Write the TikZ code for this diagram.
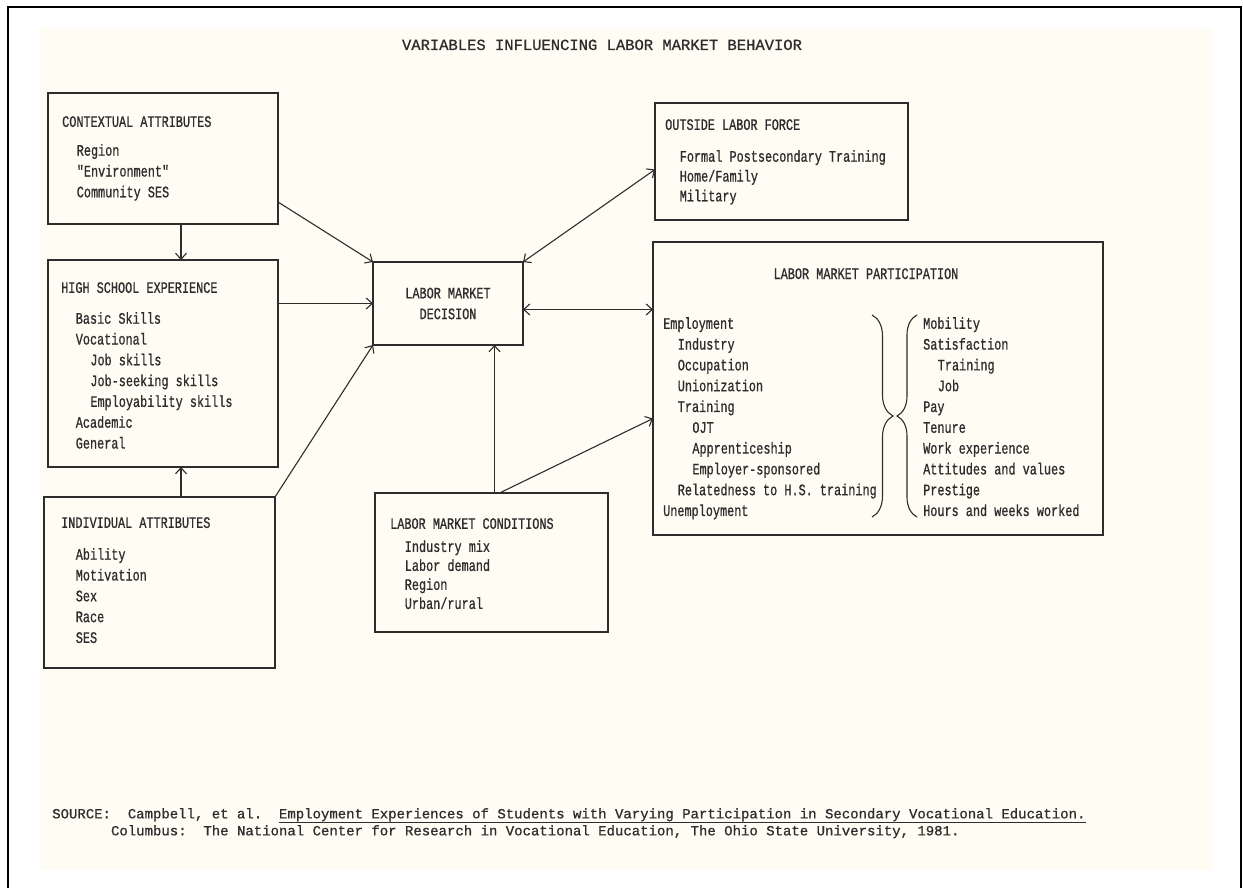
\documentclass[tikz,border=0pt]{standalone}
\usepackage{fontspec}
\usetikzlibrary{arrows.meta, decorations.pathreplacing}

\newfontfamily\boxfont[FakeStretch=0.74, FakeBold=0.8]{Liberation Mono}
\newfontfamily\headfont[FakeBold=0.8]{Liberation Mono}
\definecolor{paper}{RGB}{255,252,243}
\definecolor{ink}{RGB}{45,45,45}
\newcommand{\ind}{\hspace*{14.6pt}}

\begin{document}
\begin{tikzpicture}[x=1pt, y=-1pt, >={Straight Barb[length=6pt,width=11pt]},
  box/.style={draw=ink, line width=1.2pt, anchor=north west, inner sep=0pt, outer sep=0pt},
  txt/.style={anchor=north west, align=left, inner sep=0pt, text=ink,
    font=\boxfont\fontsize{16}{20.8}\selectfont},
  link/.style={draw=ink, line width=1.1pt}]
\useasboundingbox (0,0) rectangle (1243,888);
\fill[paper] (40,28) rectangle (1212,870);
\draw[line width=1.5pt] (8,888) -- (8,7) -- (1241,7) -- (1241,888);

\node[anchor=base, text=ink, font=\headfont\fontsize{15.5}{18}\selectfont] (head) at (602,50)
  {VARIABLES INFLUENCING LABOR MARKET BEHAVIOR};

% boxes
\node[box, minimum width=230pt, minimum height=131pt] (ctx) at (48,93) {};
\node[box, minimum width=230pt, minimum height=207pt] (hs) at (48,260) {};
\node[box, minimum width=231pt, minimum height=171pt] (ind) at (44,497) {};
\node[box, minimum width=150pt, minimum height=83pt, align=center, text=ink,
  font=\boxfont\fontsize{16}{20.8}\selectfont] (dec) at (373,262) {LABOR MARKET\\DECISION};
\node[box, minimum width=233pt, minimum height=139pt] (cond) at (375,493) {};
\node[box, minimum width=253pt, minimum height=117pt] (out) at (655,103) {};
\node[box, minimum width=450pt, minimum height=293pt] (part) at (653,242) {};

% box texts
\node[txt] (ctxtxt) at (62,116) {CONTEXTUAL ATTRIBUTES\\[8pt]
  \ind Region\\\ind "Environment"\\\ind Community SES};
\node[txt] (hstxt) at (61,282) {HIGH SCHOOL EXPERIENCE\\[10pt]
  \ind Basic Skills\\\ind Vocational\\\ind\ind Job skills\\\ind\ind Job-seeking skills\\
  \ind\ind Employability skills\\\ind Academic\\\ind General};
\node[txt] (indtxt) at (61,517) {INDIVIDUAL ATTRIBUTES\\[11pt]
  \ind Ability\\\ind Motivation\\\ind Sex\\\ind Race\\\ind SES};
\node[txt, font=\boxfont\fontsize{16}{19}\selectfont] (condtxt) at (390,518)
  {LABOR MARKET CONDITIONS\\[4pt]
  \ind Industry mix\\\ind Labor demand\\\ind Region\\\ind Urban/rural};
\node[txt, font=\boxfont\fontsize{16}{19.8}\selectfont] (outtxt) at (665,119)
  {OUTSIDE LABOR FORCE\\[12pt]
  \ind Formal Postsecondary Training\\\ind Home/Family\\\ind Military};
\node[txt, anchor=base] (parttitle) at (866,279) {LABOR MARKET PARTICIPATION};
\node[txt] (partleft) at (663,317) {Employment\\\ind Industry\\\ind Occupation\\
  \ind Unionization\\\ind Training\\\ind\ind OJT\\\ind\ind Apprenticeship\\
  \ind\ind Employer-sponsored\\\ind Relatedness to H.S. training\\Unemployment};
\node[txt] (partright) at (923,317) {Mobility\\Satisfaction\\\ind Training\\\ind Job\\
  Pay\\Tenure\\Work experience\\Attitudes and values\\Prestige\\Hours and weeks worked};

% braces
\draw[ink, line width=1.1pt, decorate, decoration={brace, amplitude=21pt}] (872,315) -- (872,517);
\draw[ink, line width=1.1pt, decorate, decoration={brace, amplitude=20pt}] (917,517) -- (917,315);

% connectors
\draw[link, ->] ([xshift=18pt]ctx.south) -- ([xshift=18pt]ctx.south |- hs.north);
\draw[link, ->] ([xshift=18pt]hs.south |- ind.north) -- ([xshift=18pt]hs.south);
\draw[link, ->] ([yshift=-43.5pt]ctx.east) -- (dec.north west);
\draw[link, ->] (hs.east |- dec.west) -- (dec.west);
\draw[link, ->] (ind.north east) -- (dec.south west);
\draw[link, ->] ([xshift=3pt]cond.north) -- ([xshift=3pt]cond.north |- dec.south);
\draw[link, ->] ([xshift=8pt]cond.north) -- ([yshift=-30pt]part.west);
\draw[link, <->] ([yshift=-6pt]dec.east) -- ([yshift=-6pt]dec.east -| part.west);
\draw[link, <->] (dec.north east) -- ([yshift=-8pt]out.west);

% source
\node[anchor=north west, align=left, inner sep=0pt, text=ink,
  font=\headfont\fontsize{14}{17}\selectfont] (src) at (52,808)
  {SOURCE:~~Campbell, et al.~~\underline{Employment Experiences of Students with Varying Participation in Secondary Vocational Education.}\\
  \phantom{SOURCE:}Columbus:~~The National Center for Research in Vocational Education, The Ohio State University, 1981.};
\end{tikzpicture}
\end{document}
